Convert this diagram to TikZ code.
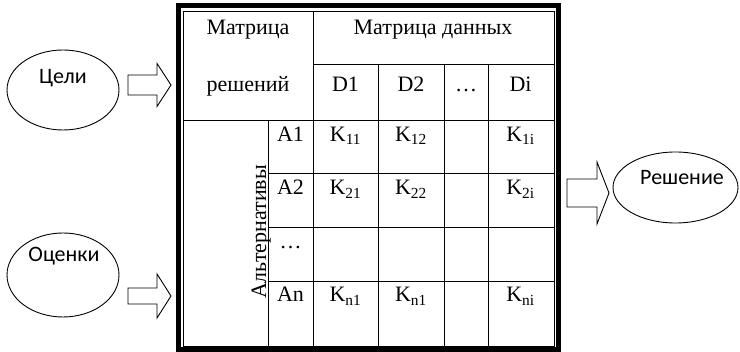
\documentclass[tikz,border=0pt]{standalone}
\usepackage{fontspec}
\usetikzlibrary{shapes.geometric}
\setmainfont{Liberation Serif}
\newfontfamily\bubblefont{Carlito}
\begin{document}
\begin{tikzpicture}[x=1pt,y=-1pt,
  grid/.style={draw=black,line width=0.9pt},
  cell/.style={anchor=base,inner sep=0pt,font=\fontsize{22}{25}\selectfont},
  bubble/.style={draw=black,line width=0.9pt,ellipse,inner sep=0pt},
  bubbletext/.style={anchor=base,inner sep=0pt,font=\bubblefont\fontsize{22}{25}\selectfont},
  blockarrow/.style={draw=black,line width=0.9pt,fill=white,line join=miter}]
\useasboundingbox (0,0) rectangle (740,352);

% double frame around the table
\draw[line width=5pt] (178.5,5.5) rectangle (558.5,349.5);
\draw[grid] (183,11) rectangle (554,346);

% table rules
\draw[grid] (313,11) -- (313,346);
\draw[grid] (313,64) -- (554,64);
\foreach \xx in {378,444,488} \draw[grid] (\xx,64) -- (\xx,346);
\draw[grid] (183,120) -- (554,120);
\draw[grid] (268,120) -- (268,346);
\foreach \yy in {173,227,281} \draw[grid] (268,\yy) -- (554,\yy);

% header
\node[cell] (hdec1) at (248,35) {Матрица};
\node[cell] (hdec2) at (248,92) {решений};
\node[cell] (hdata) at (433,35) {Матрица данных};
\node[cell] (d1) at (345.5,92) {D1};
\node[cell] (d2) at (411,92) {D2};
\node[cell] (dd) at (466,92) {\dots};
\node[cell] (di) at (520.5,92) {Di};

% rows
\node[cell,rotate=90] (alt) at (266,232) {Альтернативы};
\node[cell] (a1) at (290.5,141.5) {A1};
\node[cell] (k11) at (345.5,141.5) {K\textsubscript{11}};
\node[cell] (k12) at (411,141.5) {K\textsubscript{12}};
\node[cell] (k1i) at (520.5,141.5) {K\textsubscript{1i}};
\node[cell] (a2) at (290.5,195) {A2};
\node[cell] (k21) at (345.5,195) {K\textsubscript{21}};
\node[cell] (k22) at (411,195) {K\textsubscript{22}};
\node[cell] (k2i) at (520.5,195) {K\textsubscript{2i}};
\node[cell] (adots) at (290.5,248.5) {\dots};
\node[cell] (an) at (290.5,302) {An};
\node[cell] (kn1) at (345.5,302) {K\textsubscript{n1}};
\node[cell] (kn1b) at (411,302) {K\textsubscript{n1}};
\node[cell] (kni) at (520.5,302) {K\textsubscript{ni}};

% inputs and output
\node[bubble,minimum width=112pt,minimum height=80pt] (goals) at (63,90) {};
\node[bubbletext] (goalstext) at (63,84) {Цели};
\node[bubble,minimum width=112pt,minimum height=84pt] (marks) at (63,275) {};
\node[bubbletext] (markstext) at (64,262) {Оценки};
\node[bubble,minimum width=125pt,minimum height=71pt] (result) at (675.5,187.5) {};
\node[bubbletext] (resulttext) at (682,185) {Решение};

% block arrows
\coordinate (tip1) at (171,85);
\draw[blockarrow] (128,75) -- (157,75) -- (157,63.5) -- (tip1) -- (157,106.5) -- (157,95) -- (128,95) -- cycle;
\coordinate (tip2) at (171,296);
\draw[blockarrow] (128,288) -- (157,288) -- (157,274) -- (tip2) -- (157,318) -- (157,304) -- (128,304) -- cycle;
\coordinate (tip3) at (609,193);
\draw[blockarrow] (567,179) -- (597,179) -- (597,162) -- (tip3) -- (597,224) -- (597,207) -- (567,207) -- cycle;
\end{tikzpicture}
\end{document}
